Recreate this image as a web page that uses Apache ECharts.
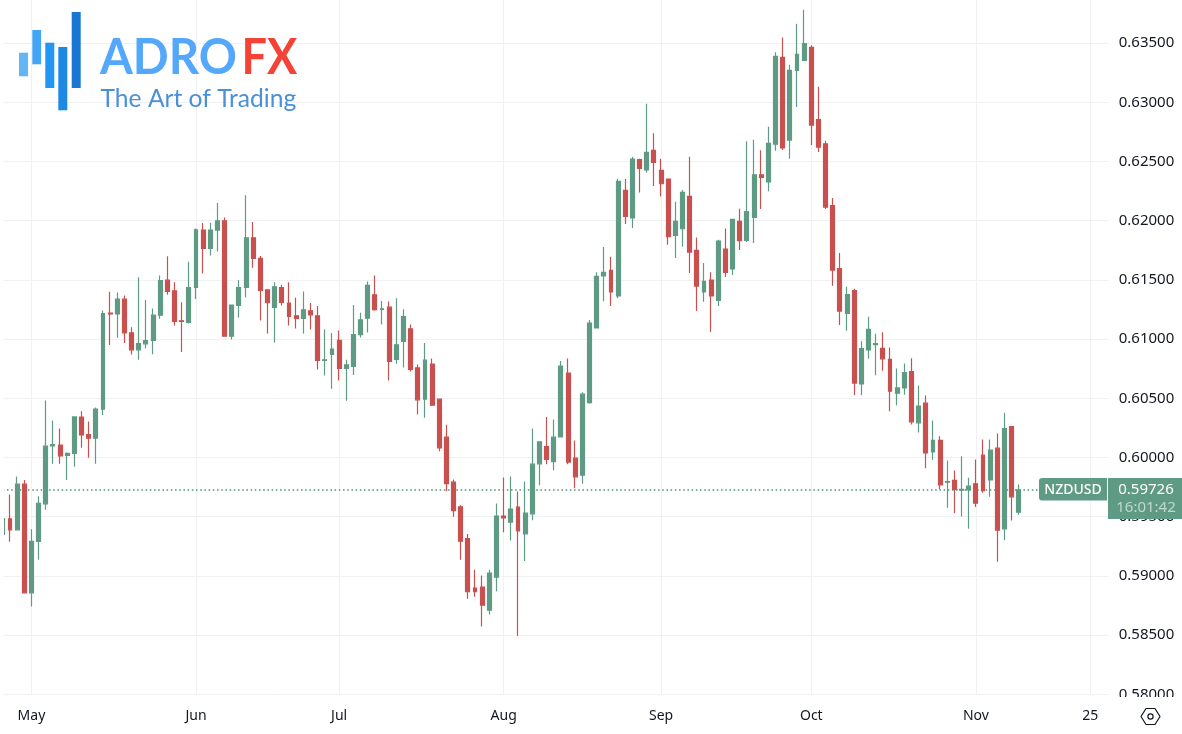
<!DOCTYPE html>
<html>
<head>
<meta charset="utf-8">
<style>html,body{margin:0;padding:0;background:#fff}#c{width:1182px;height:734px}</style>
<script src="https://cdn.jsdelivr.net/npm/echarts@6/dist/echarts.min.js"></script>
</head>
<body>
<div id="c"></div>
<script>
const opens = [.59350,.59482,.59389,.59775,.58857,.59291,.59609,.60099,.60104,.60017,
.60034,.60341,.60194,.60163,.60408,.61219,.61213,.61337,.61053,.60909,
.60960,.60988,.61202,.61498,.61408,.61155,.61141,.61436,.61921,.61766,
.61921,.61999,.61025,.61284,.61436,.61856,.61681,.61417,.61267,.61436,
.61304,.61197,.61175,.61239,.61197,.60820,.60871,.60989,.60752,.60769,
.61037,.61177,.61374,.61251,.61270,.60828,.60980,.61087,.60757,.60493,
.60788,.60493,.60172,.59792,.59583,.59316,.58897,.58905,.58711,.58989,
.59505,.59454,.59581,.59355,.59524,.59947,.60093,.59966,.60175,.60712,
.59994,.59851,.60463,.61094,.61533,.61581,.61364,.62256,.62023,.62515,
.62428,.62594,.62425,.62352,.61876,.61932,.62205,.61749,.61398,.61499,
.61327,.61761,.61592,.61994,.61834,.62028,.62388,.62327,.62647,.63379,
.62681,.63270,.63354,.63464,.62853,.62650,.62127,.61595,.61217,.61409,
.60621,.60908,.60953,.60921,.60828,.60543,.60588,.60726,.60293,.60459,
.60048,.60144,.59792,.59806,.59724,.59727,.59778,.60020,.59811,.60079,
.59398,.60262,.59538];
const closes = [.59485,.59389,.59775,.58857,.59291,.59612,.60096,.60110,.60014,.60034,
.60343,.60191,.60163,.60408,.61216,.61213,.61337,.61053,.60909,.60963,
.60988,.61202,.61495,.61402,.61149,.61149,.61436,.61923,.61766,.61921,
.61999,.61025,.61287,.61436,.61856,.61681,.61411,.61307,.61442,.61310,
.61191,.61175,.61248,.61205,.60820,.60825,.60916,.60752,.60783,.61037,
.61163,.61453,.61248,.61256,.60811,.60952,.61189,.60744,.60487,.60822,
.60442,.60082,.59780,.59552,.59293,.58866,.58866,.58753,.59023,.59505,
.59490,.59564,.59381,.59530,.59944,.60132,.59983,.60172,.60771,.59961,
.59837,.60535,.61136,.61530,.61564,.61398,.62332,.62037,.62521,.62442,
.62577,.62493,.62312,.61865,.61994,.62239,.61735,.61448,.61488,.61364,
.61828,.61564,.62011,.61831,.62076,.62388,.62366,.62653,.63388,.62614,
.63270,.63405,.63495,.62808,.62622,.62115,.61583,.61237,.61375,.60629,
.60919,.61082,.60961,.60833,.60560,.60588,.60718,.60301,.60434,.60039,
.60144,.59769,.59797,.59730,.59730,.59758,.59614,.59721,.60062,.59386,
.60245,.59668,.59726];
const lows = [.59350,.59288,.59389,.58857,.58742,.59136,.59558,.59947,.59947,.59811,
.59921,.60082,.59997,.59947,.60360,.60951,.61011,.60968,.60870,.60825,
.60921,.60873,.61171,.61374,.61115,.60890,.61132,.61338,.61555,.61707,
.61740,.61025,.60997,.61183,.61352,.61602,.61158,.61048,.60972,.61284,
.61115,.61090,.61048,.61082,.60744,.60693,.60581,.60651,.60479,.60696,
.61014,.61056,.61239,.61124,.60651,.60792,.60761,.60727,.60363,.60335,
.60434,.60053,.59716,.59499,.59136,.58806,.58823,.58573,.58674,.58871,
.59369,.59299,.58494,.59125,.59471,.59766,.59944,.59893,.60175,.59944,
.59741,.59778,.60455,.61094,.61319,.61279,.61347,.61972,.61938,.62239,
.62405,.62293,.62205,.61797,.61685,.61780,.61558,.61237,.61316,.61060,
.61279,.61524,.61541,.61752,.61820,.61811,.62099,.62248,.62591,.62597,
.62524,.62960,.63354,.62639,.62580,.62099,.61451,.61119,.61071,.60525,
.60525,.60835,.60694,.60732,.60391,.60442,.60529,.60279,.60211,.59910,
.59980,.59735,.59575,.59530,.59502,.59398,.59581,.59702,.59668,.59119,
.59302,.59468,.59516];
const highs = [.59485,.59688,.59840,.59811,.59395,.59673,.60481,.60312,.60245,.60042,
.60346,.60391,.60304,.60422,.61241,.61399,.61393,.61368,.61101,.61523,
.61331,.61258,.61537,.61700,.61481,.61312,.61653,.61935,.61980,.61983,
.62149,.62027,.61287,.61498,.62216,.61988,.61701,.61417,.61481,.61459,
.61481,.61349,.61403,.61304,.61279,.61084,.61051,.61073,.60825,.61287,
.61222,.61487,.61538,.61321,.61318,.61346,.61253,.61124,.60785,.60968,
.60836,.60493,.60276,.59814,.59597,.59353,.59051,.59003,.59051,.59612,
.59831,.59840,.59713,.59797,.60245,.60135,.60343,.60321,.60814,.60836,
.60144,.60552,.61161,.61564,.61778,.61696,.62355,.62352,.62540,.62524,
.62988,.62738,.62524,.62355,.62160,.62259,.62540,.61859,.61642,.61564,
.61840,.61935,.62011,.62101,.62670,.62684,.62594,.62794,.63422,.63548,
.63317,.63664,.63782,.63481,.63132,.62676,.62191,.61727,.61443,.61426,
.60981,.61189,.61046,.61058,.60929,.60752,.60794,.60839,.60608,.60524,
.60312,.60180,.59975,.59890,.60011,.59828,.59983,.60152,.60152,.60203,
.60377,.60262,.59772];
const tickIndex = [4,27,47,70,92,113,136,152];
const tickLabels = ['May','Jun','Jul','Aug','Sep','Oct','Nov','25'];
const slotCount = 155;
const symbol = 'NZDUSD';
const lastPrice = 0.59726;
const countdown = '16:01:42';

const UP = '#5f9a85', DOWN = '#c8504f', GRID = '#f0f1f4', TEXT = '#131722';
const FONT = '"Noto Sans","Open Sans",sans-serif';
const categories = [];
for (let i = 0; i < slotCount; i++) categories.push(String(i));
const candles = opens.map((o, i) => [o, closes[i], lows[i], highs[i]]);
const priceLine = categories.map(() => lastPrice);

const chart = echarts.init(document.getElementById('c'), null, {renderer: 'canvas'});
const bar = (x, y, w, h, fill) => ({type: 'rect', z: 100, shape: {x, y, width: w, height: h}, style: {fill}});
const txt = (x, y, text, font, fill, align, sx) => ({type: 'text', z: 100, x, y, scaleX: sx || 1, style: {text, font, fill, align: align || 'left', verticalAlign: 'middle'}});
chart.setOption({
  animation: false,
  backgroundColor: '#fff',
  grid: {left: -0.75, top: -16.1, width: 1109, height: 710.4, containLabel: false, outerBoundsMode: 'none'},
  xAxis: {
    type: 'category', data: categories, boundaryGap: true,
    axisLine: {show: false}, axisTick: {show: false},
    axisLabel: {
      interval: i => tickIndex.includes(i),
      formatter: (v, i) => tickLabels[tickIndex.indexOf(i)] || '',
      color: TEXT, fontFamily: FONT, fontSize: 14, margin: 15
    },
    splitLine: {show: true, alignWithLabel: true, interval: i => tickIndex.includes(i), lineStyle: {color: GRID, width: 1}}
  },
  yAxis: {
    type: 'value', position: 'right', min: 0.58, max: 0.64, interval: 0.005, scale: true,
    axisLine: {show: false}, axisTick: {show: false},
    axisLabel: {formatter: v => v.toFixed(5), color: TEXT, fontFamily: FONT, fontSize: 15, margin: 10.5},
    splitLine: {show: true, lineStyle: {color: GRID, width: 1}}
  },
  series: [
    {type: 'line', data: priceLine, z: 1, silent: true, showSymbol: false, symbol: 'none',
     lineStyle: {color: '#4f8f78', width: 1.4, type: [1.5, 2.7]}},
    {type: 'candlestick', data: candles, z: 2, barWidth: 4.4, silent: true,
     itemStyle: {color: UP, color0: DOWN, borderColor: UP, borderColor0: DOWN, borderWidth: 1.2}}
  ],
  graphic: [
    {type: 'rect', z: 50, shape: {x: 0, y: 0, width: 4, height: 734}, style: {fill: '#fff'}},
    {type: 'rect', z: 50, shape: {x: 1108, y: 697, width: 74, height: 37}, style: {fill: '#fff'}},
    {type: 'rect', z: 60, shape: {x: 1039, y: 478, width: 68, height: 22.5, r: [3, 0, 0, 3]}, style: {fill: UP}},
    {type: 'rect', z: 60, shape: {x: 1108, y: 478, width: 74, height: 41}, style: {fill: UP}},
    Object.assign(txt(1073, 490, symbol, '500 14px ' + FONT, '#fff', 'center'), {z: 70}),
    Object.assign(txt(1146, 490, lastPrice.toFixed(5), '15px ' + FONT, '#fff', 'center'), {z: 70}),
    Object.assign(txt(1146, 508, countdown, '15px ' + FONT, 'rgba(255,255,255,0.6)', 'center'), {z: 70}),
    bar(19, 52.7, 9, 23.6, '#64b5f6'),
    bar(32.3, 30, 8.8, 34.3, '#42a5f5'),
    bar(45.3, 42.7, 9, 45.3, '#2196f3'),
    bar(58.3, 47, 9, 63.3, '#1e88e5'),
    bar(71.7, 12, 9, 76, '#1976d2'),
    txt(100, 58, 'ADRO', '700 50px Lato', '#54a8fc', 'left', 0.945),
    txt(241.5, 58, 'FX', '700 50px Lato', '#f44336', 'left', 0.9),
    txt(100.5, 99, 'The Art of Trading', '25px Lato', '#4a90d9', 'left', 0.985),
    {type: 'polygon', z: 100, shape: {points: [[1141, 716.5], [1146, 708.5], [1155, 708.5], [1160, 716.5], [1155, 724.5], [1146, 724.5]]},
     style: {fill: 'none', stroke: TEXT, lineWidth: 1.2, lineJoin: 'round'}},
    {type: 'circle', z: 100, shape: {cx: 1150.5, cy: 716.5, r: 2.6}, style: {fill: 'none', stroke: TEXT, lineWidth: 1.2}}
  ]
});
</script>
</body>
</html>
